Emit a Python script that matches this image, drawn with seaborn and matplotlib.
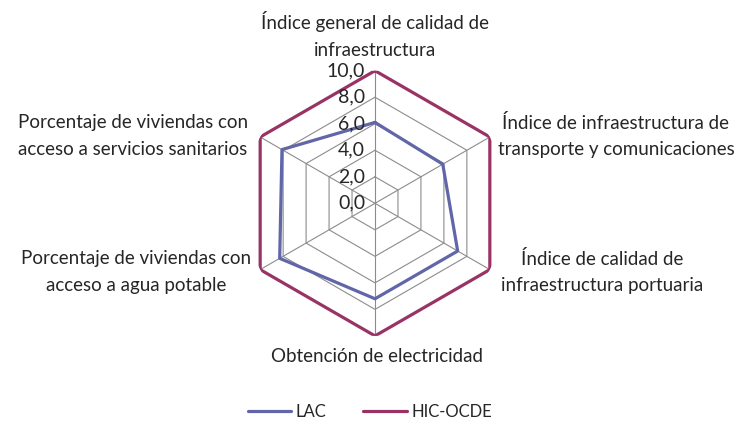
import numpy as np
import pandas as pd
import matplotlib
matplotlib.use("Agg")
import matplotlib.pyplot as plt
import seaborn as sns

# datos
categorias = [
    "Índice general de calidad de\ninfraestructura",
    "Índice de infraestructura de\ntransporte y comunicaciones",
    "Índice de calidad de\ninfraestructura portuaria",
    "Obtención de electricidad",
    "Porcentaje de viviendas con\nacceso a agua potable",
    "Porcentaje de viviendas con\nacceso a servicios sanitarios",
]
lac = [6.1, 5.9, 7.2, 7.2, 8.3, 8.1]
hic_ocde = [10.0, 10.0, 10.0, 10.0, 10.0, 10.0]
series = ["LAC", "HIC-OCDE"]
ticks_r = [0.0, 2.0, 4.0, 6.0, 8.0, 10.0]

colores = {"LAC": "#6066A8", "HIC-OCDE": "#993366"}

sns.set_style("white")
plt.rcParams["font.family"] = ["Lato", "DejaVu Sans"]

W, H = 737, 426
fig = plt.figure(figsize=(W / 100, H / 100), dpi=100)

# polar axes centred at (375, 203) px, radius ~132.6 px
cx, cy, rad = 375, 203.3, 132.6
ax = fig.add_axes([(cx - rad) / W, 1 - (cy + rad) / H, 2 * rad / W, 2 * rad / H],
                  projection="polar")
ax.set_theta_offset(np.pi / 2)
ax.set_theta_direction(-1)
ax.grid(False)
ax.spines["polar"].set_visible(False)
ax.set_xticks([])
ax.set_yticks([])
ax.set_facecolor("none")

n = len(categorias)
angulos = np.linspace(0, 2 * np.pi, n, endpoint=False)
ang_cerrado = np.append(angulos, 2 * np.pi)

# hexagonal grid + spokes
for r in ticks_r[1:]:
    ax.plot(ang_cerrado, [r] * (n + 1), color="#8c8c8c", lw=0.8, zorder=1)
for a in angulos:
    ax.plot([a, a], [0, ticks_r[-1]], color="#8c8c8c", lw=0.8, zorder=1)

df = pd.DataFrame({
    "ang": np.concatenate([ang_cerrado, ang_cerrado]),
    "val": lac + lac[:1] + hic_ocde + hic_ocde[:1],
    "serie": ["LAC"] * (n + 1) + ["HIC-OCDE"] * (n + 1),
})
sns.lineplot(data=df, x="ang", y="val", hue="serie", hue_order=series,
             palette=colores, sort=False, linewidth=2.3, ax=ax, zorder=3)
ax.set_ylim(0, 10)
ax.set_xlabel("")
ax.set_ylabel("")

for r in ticks_r:
    ax.annotate(f"{r:.1f}".replace(".", ","), xy=(0, r), xytext=(-7, 0),
                textcoords="offset points", ha="right", va="center",
                fontsize=14, color="#262626")

# category labels (pixel centres)
pos = [(375, 35), (616, 136), (602, 272), (377, 357), (136, 272), (133, 136)]
for txt, (px, py) in zip(categorias, pos):
    fig.text(px / W, 1 - py / H, txt, ha="center", va="center",
             fontsize=13.5, color="#262626", linespacing=1.68)

handles, labels = ax.get_legend_handles_labels()
ax.get_legend().remove()
fig.legend(handles, labels, loc="center", bbox_to_anchor=(370 / W, 1 - 412 / H),
           ncol=2, frameon=False, fontsize=12, handlelength=2.6,
           columnspacing=2.2, handletextpad=0.3)

fig.savefig("out.png", dpi=100)
